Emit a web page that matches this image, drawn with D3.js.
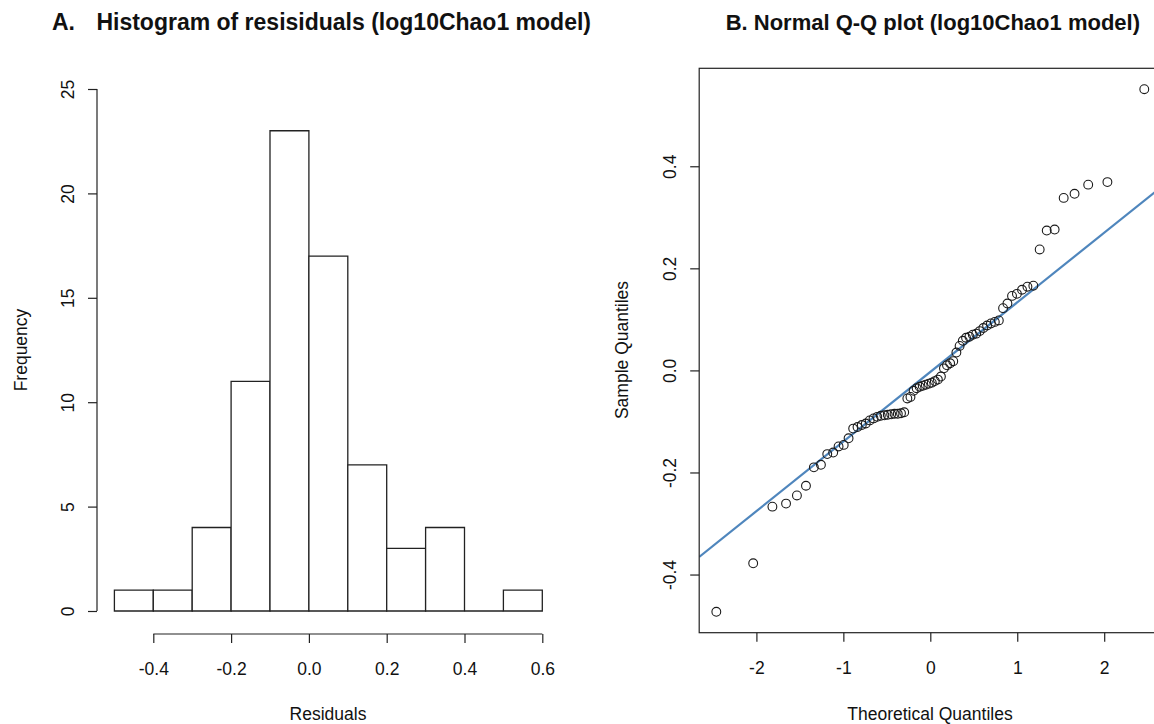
<!DOCTYPE html>
<html>
<head>
<meta charset="utf-8">
<script src="https://cdn.jsdelivr.net/npm/d3@7"></script>
<style>
  body { margin: 0; background: #fff; }
  svg text { font-family: "Liberation Sans", Arial, Helvetica, sans-serif; fill: #111; }
</style>
</head>
<body>
<svg id="chart" width="1154" height="724"></svg>
<script>
// Histogram of residuals: bin edges and counts
const binEdges = [-0.5, -0.4, -0.3, -0.2, -0.1, 0.0, 0.1, 0.2, 0.3, 0.4, 0.5, 0.6];
const binCounts = [1, 1, 4, 11, 23, 17, 7, 3, 4, 0, 1];
const residualTicks = [-0.4, -0.2, 0.0, 0.2, 0.4, 0.6];
const frequencyTicks = [0, 5, 10, 15, 20, 25];

// Normal Q-Q plot: theoretical normal quantiles and sorted residuals
const theoreticalQ = [
  -2.461, -2.037, -1.816, -1.659, -1.534, -1.430, -1.339, -1.258, -1.185, -1.117,
  -1.055, -0.996, -0.940, -0.887, -0.837, -0.788, -0.742, -0.697, -0.653, -0.610,
  -0.569, -0.528, -0.489, -0.450, -0.411, -0.374, -0.337, -0.300, -0.264, -0.228,
  -0.192, -0.157, -0.122, -0.087, -0.052, -0.017, 0.017, 0.052, 0.087, 0.122,
  0.157, 0.192, 0.228, 0.264, 0.300, 0.337, 0.374, 0.411, 0.450, 0.489,
  0.528, 0.569, 0.610, 0.653, 0.697, 0.742, 0.788, 0.837, 0.887, 0.940,
  0.996, 1.055, 1.117, 1.185, 1.258, 1.339, 1.430, 1.534, 1.659, 1.816,
  2.037, 2.461
];
const sampleQ = [
  -0.473, -0.378, -0.267, -0.261, -0.245, -0.226, -0.190, -0.185, -0.164, -0.161,
  -0.149, -0.146, -0.133, -0.114, -0.111, -0.107, -0.104, -0.098, -0.094, -0.091,
  -0.089, -0.088, -0.087, -0.086, -0.085, -0.085, -0.084, -0.082, -0.055, -0.052,
  -0.040, -0.035, -0.032, -0.030, -0.028, -0.026, -0.024, -0.021, -0.018, -0.012,
  0.004, 0.010, 0.014, 0.018, 0.035, 0.048, 0.058, 0.064, 0.066, 0.070,
  0.072, 0.077, 0.083, 0.088, 0.092, 0.095, 0.098, 0.122, 0.131, 0.146,
  0.150, 0.158, 0.164, 0.166, 0.237, 0.274, 0.276, 0.338, 0.346, 0.364,
  0.369, 0.551
];
const theoreticalTicks = [-2, -1, 0, 1, 2];
const sampleTicks = [-0.4, -0.2, 0.0, 0.2, 0.4];

const svg = d3.select("#chart");
const LABEL_SIZE = 17.5;
const TICK_LEN = 9;
const fmt1 = d => d.toFixed(1);

// ---------- helpers for R-style axes ----------
function bottomAxis(g, scale, ticks, format, y) {
  const ax = g.append("g").attr("transform", `translate(0,${y})`)
    .call(d3.axisBottom(scale).tickValues(ticks).tickFormat(format)
      .tickSize(TICK_LEN).tickSizeOuter(0));
  ax.select(".domain").remove();
  ax.append("line")
    .attr("x1", scale(ticks[0])).attr("x2", scale(ticks[ticks.length - 1]))
    .attr("stroke", "#222").attr("stroke-width", 1.2);
  ax.selectAll(".tick line").attr("stroke", "#222").attr("stroke-width", 1.2);
  ax.selectAll(".tick text")
    .attr("y", 40.5).attr("dy", 0)
    .style("font-size", LABEL_SIZE + "px").attr("fill", "#111");
  return ax;
}
function leftAxis(g, scale, ticks, format, x, drawLine) {
  const ax = g.append("g").attr("transform", `translate(${x},0)`)
    .call(d3.axisLeft(scale).tickValues(ticks).tickFormat(format)
      .tickSize(TICK_LEN).tickSizeOuter(0));
  ax.select(".domain").remove();
  if (drawLine) {
    ax.append("line")
      .attr("y1", scale(ticks[0])).attr("y2", scale(ticks[ticks.length - 1]))
      .attr("stroke", "#222").attr("stroke-width", 1.2);
  }
  ax.selectAll(".tick line").attr("stroke", "#222").attr("stroke-width", 1.2);
  ax.selectAll(".tick text")
    .attr("x", 0).attr("dy", 0)
    .attr("text-anchor", "middle")
    .attr("transform", "translate(-23.5,0) rotate(-90)")
    .style("font-size", LABEL_SIZE + "px").attr("fill", "#111");
  return ax;
}

// ---------- Panel A: histogram ----------
const hx = d3.scaleLinear().domain([-0.5, 0.6]).range([114.4, 542.3]);
const hy = d3.scaleLinear().domain([0, 25]).range([611, 89]);
const bins = binCounts.map((c, i) => ({ x0: binEdges[i], x1: binEdges[i + 1], n: c }));

const gA = svg.append("g");
// bars as closed paths so an empty bin still shows its base line
gA.selectAll("path.bar").data(bins).join("path")
  .attr("class", "bar")
  .attr("d", d => {
    const p = d3.path();
    p.moveTo(hx(d.x0), hy(0));
    p.lineTo(hx(d.x0), hy(d.n));
    p.lineTo(hx(d.x1), hy(d.n));
    p.lineTo(hx(d.x1), hy(0));
    p.closePath();
    return p.toString();
  })
  .attr("fill", "#fff")
  .attr("stroke", "#222")
  .attr("stroke-width", 1.3);

bottomAxis(gA, hx, residualTicks, fmt1, 634);
leftAxis(gA, hy, frequencyTicks, d => String(d), 97, true);

gA.append("text").attr("x", 328).attr("y", 719.5).attr("text-anchor", "middle")
  .style("font-size", LABEL_SIZE + "px").text("Residuals");
gA.append("text").attr("transform", "translate(27,350) rotate(-90)")
  .attr("text-anchor", "middle").style("font-size", LABEL_SIZE + "px").text("Frequency");

gA.append("text").attr("x", 52).attr("y", 30)
  .style("font-size", "23px").style("font-weight", "bold").text("A.");
gA.append("text").attr("x", 591).attr("y", 30).attr("text-anchor", "end")
  .style("font-size", "23px").style("font-weight", "bold")
  .text("Histogram of resisiduals (log10Chao1 model)");

// ---------- Panel B: normal Q-Q plot ----------
const padExt = (arr) => {
  const [a, b] = d3.extent(arr);
  const p = (b - a) * 0.04;
  return [a - p, b + p];
};
const qx = d3.scaleLinear().domain(padExt(theoreticalQ)).range([699.2, 1161.4]);
const qy = d3.scaleLinear().domain(padExt(sampleQ)).range([632.7, 68.3]);

const gB = svg.append("g");
gB.append("defs").append("clipPath").attr("id", "qqclip")
  .append("rect")
  .attr("x", qx.range()[0]).attr("y", qy.range()[1])
  .attr("width", qx.range()[1] - qx.range()[0])
  .attr("height", qy.range()[0] - qy.range()[1]);

// reference line through the first and third quartiles
const zQ3 = 0.6744898;
const sQ1 = d3.quantile(sampleQ, 0.25);
const sQ3 = d3.quantile(sampleQ, 0.75);
const slope = (sQ3 - sQ1) / (2 * zQ3);
const intercept = sQ1 + slope * zQ3;
const [dx0, dx1] = qx.domain();
gB.append("line")
  .attr("clip-path", "url(#qqclip)")
  .attr("x1", qx(dx0)).attr("y1", qy(intercept + slope * dx0))
  .attr("x2", qx(dx1)).attr("y2", qy(intercept + slope * dx1))
  .attr("stroke", "#4f86bd").attr("stroke-width", 2.2);

gB.selectAll("circle.pt").data(theoreticalQ.map((t, i) => [t, sampleQ[i]])).join("circle")
  .attr("class", "pt")
  .attr("cx", d => qx(d[0])).attr("cy", d => qy(d[1]))
  .attr("r", 4.4)
  .attr("fill", "none").attr("stroke", "#1a1a1a").attr("stroke-width", 1.1);

gB.append("rect")
  .attr("x", qx.range()[0]).attr("y", qy.range()[1])
  .attr("width", qx.range()[1] - qx.range()[0])
  .attr("height", qy.range()[0] - qy.range()[1])
  .attr("fill", "none").attr("stroke", "#222").attr("stroke-width", 1.2);

const axB = gB.append("g").attr("transform", `translate(0,${qy.range()[0]})`)
  .call(d3.axisBottom(qx).tickValues(theoreticalTicks).tickFormat(d => String(d))
    .tickSize(TICK_LEN).tickSizeOuter(0));
axB.select(".domain").remove();
axB.selectAll(".tick line").attr("stroke", "#222").attr("stroke-width", 1.2);
axB.selectAll(".tick text").attr("y", 41.8).attr("dy", 0)
  .style("font-size", LABEL_SIZE + "px").attr("fill", "#111");

leftAxis(gB, qy, sampleTicks, fmt1, qx.range()[0], false);

gB.append("text").attr("x", 930).attr("y", 719.5).attr("text-anchor", "middle")
  .style("font-size", LABEL_SIZE + "px").text("Theoretical Quantiles");
gB.append("text").attr("transform", "translate(627.5,350) rotate(-90)")
  .attr("text-anchor", "middle").style("font-size", LABEL_SIZE + "px").text("Sample Quantiles");

gB.append("text").attr("x", 1140).attr("y", 30).attr("text-anchor", "end")
  .style("font-size", "22px").style("font-weight", "bold")
  .text("B. Normal Q-Q plot (log10Chao1 model)");
</script>
</body>
</html>
